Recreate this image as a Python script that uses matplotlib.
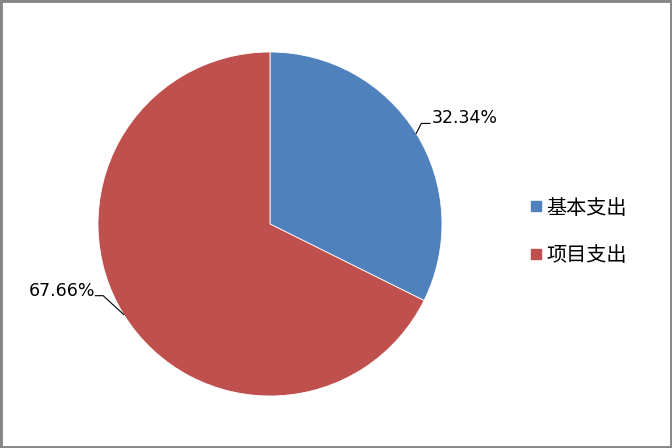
import numpy as np
import matplotlib
matplotlib.use("Agg")
import matplotlib.pyplot as plt
from matplotlib.lines import Line2D
from matplotlib.patches import Rectangle

categories = ["基本支出", "项目支出"]
values = [32.34, 67.66]
labels = ["32.34%", "67.66%"]
colors = ["#4F81BD", "#C0504D"]

plt.rcParams['font.family'] = ['Noto Sans CJK SC', 'DejaVu Sans']

W, H = 672, 448
fig = plt.figure(figsize=(W / 100, H / 100), dpi=100)

cx, cy, r = 270, 224, 172
ax = fig.add_axes([(cx - r) / W, (H - cy - r) / H, 2 * r / W, 2 * r / H])
wedges, _ = ax.pie(values, colors=colors, startangle=90, counterclock=False,
                   radius=1, wedgeprops=dict(edgecolor="white", linewidth=0.6))
ax.set_xlim(-1, 1)
ax.set_ylim(-1, 1)
ax.set_aspect("auto")
ax.axis("off")

# labels with leader lines
for w, lab in zip(wedges, labels):
    ang = np.deg2rad((w.theta1 + w.theta2) / 2)
    x0, y0 = np.cos(ang), np.sin(ang)
    if y0 > 0:
        ex, ey = x0 + 0.03, y0 + 0.058
        hx = ex + 0.05
        ax.plot([x0, ex, hx], [y0, ey, ey], color="black", lw=0.8, clip_on=False)
        ax.text(hx + 0.01, ey + 0.03, lab, ha="left", va="center",
                fontsize=12.5, family=["DejaVu Sans"], clip_on=False)
    else:
        ex, ey = x0 - 0.12, y0 + 0.11
        hx = ex - 0.045
        ax.plot([x0, ex, hx], [y0, ey, ey], color="black", lw=0.8, clip_on=False)
        ax.text(hx, ey + 0.025, lab, ha="right", va="center",
                fontsize=12.5, family=["DejaVu Sans"], clip_on=False)

handles = [Line2D([], [], marker="s", linestyle="none", markersize=7.5,
                  markerfacecolor=c, markeredgecolor=c) for c in colors]
fig.legend(handles, categories, loc="center left",
           bbox_to_anchor=(522 / W, 1 - 232 / H), frameon=False,
           fontsize=14.5, handlelength=0.55, handletextpad=0.25,
           labelspacing=1.34, borderaxespad=0)

# border
fig.patches.append(Rectangle((0, 0), 1, 1, transform=fig.transFigure,
                             fill=False, edgecolor="#868686", linewidth=3.5))

fig.savefig("out.png", dpi=100, facecolor="white")
